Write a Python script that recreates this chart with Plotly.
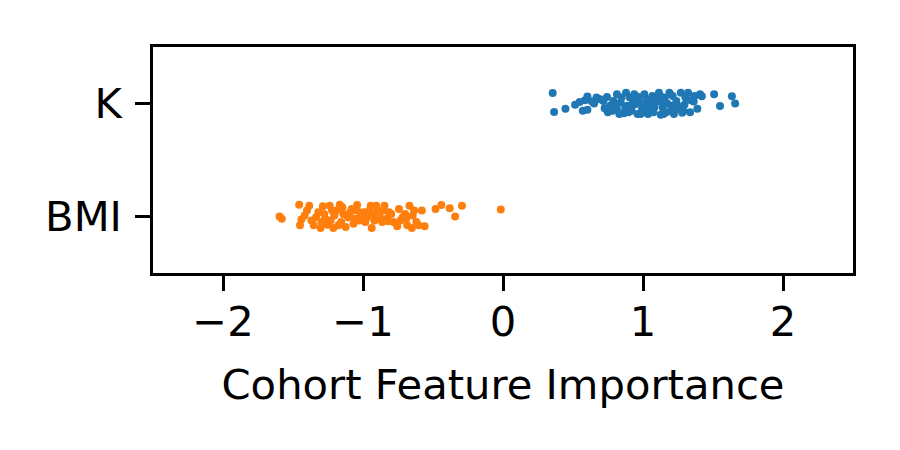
import numpy as np
import plotly.graph_objects as go

# Strip plot of cohort feature importance
features = ["BMI", "K"]
k_values = [0.355, 0.365, 0.446, 0.515, 0.547, 0.570, 0.586, 0.603, 0.603, 0.651,
            0.694, 0.717, 0.743, 0.749, 0.765, 0.788, 0.814, 0.814, 0.840, 0.863,
            0.879, 0.886, 0.906, 0.919, 0.938, 0.961, 0.977, 0.993, 1.010, 1.026,
            1.036, 1.049, 1.068, 1.075, 1.091, 1.114, 1.127, 1.140, 1.156, 1.166,
            1.189, 1.205, 1.221, 1.238, 1.254, 1.270, 1.287, 1.303, 1.322, 1.342,
            1.362, 1.388, 1.407, 1.420, 1.508, 1.550, 1.635, 1.658,
            0.782, 0.847, 0.873, 0.896, 0.945, 0.971, 1.003, 1.016, 1.042, 1.101,
            1.124, 1.147, 1.173, 1.199, 1.231, 1.264, 1.280, 1.296, 0.726, 0.831,
            0.928, 0.983, 1.081, 0.635, 0.668, 0.798, 0.912, 1.059, 1.134, 1.212,
            1.336, 1.368]
k_jitter = [0.093, -0.075, -0.046, -0.012, 0.014, -0.064, 0.029, 0.061, -0.055, 0.000,
            0.038, 0.023, 0.058, -0.078, -0.020, 0.023, 0.081, -0.049, 0.009, -0.087,
            0.096, -0.020, 0.052, -0.064, 0.081, -0.093, 0.009, -0.049, 0.081, 0.038,
            -0.093, -0.020, 0.067, -0.078, 0.009, 0.096, -0.099, -0.035, 0.052, -0.078,
            0.096, -0.020, -0.093, 0.023, -0.049, 0.096, -0.064, 0.052, 0.096, 0.029,
            0.017, -0.046, 0.081, 0.064, 0.081, -0.023, 0.064, 0.000,
            -0.064, 0.052, -0.041, -0.078, -0.006, 0.058, -0.078, -0.020, -0.064, 0.038,
            0.067, -0.093, 0.000, -0.064, -0.041, -0.029, -0.081, -0.012, -0.041, -0.093,
            0.023, -0.093, -0.035, 0.017, 0.052, -0.006, -0.035, 0.009, 0.017, 0.067,
            -0.078, 0.067]

bmi_values = [-1.596, -1.580, -1.456, -1.450, -1.440, -1.400, -1.384, -1.368, -1.352, -1.319,
              -1.303, -1.287, -1.270, -1.254, -1.238, -1.212, -1.205, -1.189, -1.166, -1.156,
              -1.140, -1.124, -1.107, -1.081, -1.059, -1.042, -1.016, -0.993, -0.971, -0.945,
              -0.938, -0.919, -0.896, -0.879, -0.863, -0.847, -0.821, -0.814, -0.798, -0.756,
              -0.733, -0.717, -0.700, -0.684, -0.668, -0.651, -0.635, -0.619, -0.603, -0.580,
              -0.560, -0.482, -0.440, -0.381, -0.342, -0.293, -0.016,
              -1.417, -1.335, -1.296, -1.231, -1.176, -1.147, -1.091, -1.068, -1.026, -0.984,
              -0.954, -0.928, -0.906, -0.853, -0.831, -0.782, -0.743, -0.691, -0.645, -1.221,
              -1.277, -1.042]
bmi_jitter = [0.000, -0.020, 0.104, -0.078, -0.026, 0.052, 0.096, -0.035, -0.078, 0.038,
              -0.101, 0.090, -0.020, -0.072, 0.096, -0.101, 0.009, 0.052, 0.104, -0.049,
              0.023, -0.093, -0.006, 0.067, -0.020, 0.052, 0.009, 0.038, -0.006, 0.096,
              -0.101, -0.035, 0.052, -0.006, -0.049, 0.096, -0.043, 0.038, 0.023, -0.087,
              -0.035, -0.006, 0.023, -0.078, 0.096, -0.101, 0.052, -0.049, -0.078, 0.052,
              -0.087, 0.067, 0.101, 0.072, 0.000, 0.096, 0.061,
              0.009, -0.006, -0.049, -0.035, -0.078, 0.081, 0.038, -0.064, -0.035, -0.049,
              0.052, 0.023, 0.096, 0.052, -0.020, -0.049, 0.067, -0.020, 0.009, 0.052,
              0.023, 0.101]

x_ticks = [-2, -1, 0, 1, 2]
x_tick_labels = ["\u22122", "\u22121", "0", "1", "2"]

FONT = "DejaVu Sans, Liberation Sans, sans-serif"
FONT_SIZE = 41.7
fig = go.Figure()

fig.add_trace(go.Scatter(
    x=k_values,
    y=1 + np.array(k_jitter),
    mode="markers",
    marker=dict(color="#1f77b4", size=8, line=dict(width=0)),
    name="K"))

fig.add_trace(go.Scatter(
    x=bmi_values,
    y=0 + np.array(bmi_jitter),
    mode="markers",
    marker=dict(color="#ff7f0e", size=8, line=dict(width=0)),
    name="BMI"))

axis_style = dict(
    showline=True, linecolor="black", linewidth=3.3, mirror=True,
    ticks="outside", ticklen=14.6, tickwidth=3.3, tickcolor="black",
    showgrid=False, zeroline=False,
    tickfont=dict(family=FONT, size=FONT_SIZE, color="black"))

fig.update_xaxes(range=[-2.5, 2.5], tickvals=x_ticks, ticktext=x_tick_labels,
                 ticklabelstandoff=-5,
                 title=dict(text="Cohort Feature Importance", standoff=26,
                            font=dict(family=FONT, size=FONT_SIZE, color="black")),
                 **axis_style)
fig.update_yaxes(range=[-0.5, 1.5], tickvals=[0, 1], ticktext=features,
                 ticklabelstandoff=5, **axis_style)

# page body adds ~8px offset, margins compensate so the box lands where it should
fig.update_layout(
    width=900, height=450,
    margin=dict(l=145, r=55, t=39, b=185),
    plot_bgcolor="white", paper_bgcolor="white",
    showlegend=False)

fig.write_html("out.html")
